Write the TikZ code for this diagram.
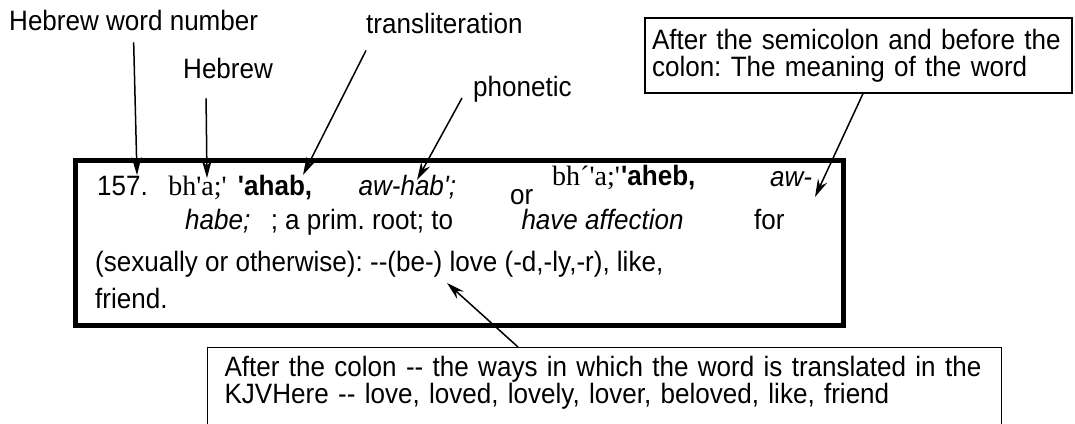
\documentclass[tikz,border=0pt]{standalone}
\usepackage{fontspec}
\newfontfamily\arialfont{Liberation Sans}[FakeStretch=0.93]
\newfontfamily\timesfont{Liberation Serif}
\usetikzlibrary{arrows.meta,positioning}

\begin{document}
\begin{tikzpicture}[
    x=1pt, y=1pt,
    txt/.style={anchor=base west, inner sep=0pt, font=\arialfont\frenchspacing\fontsize{28}{30}\selectfont},
    hebtxt/.style={txt, font=\timesfont\fontsize{28}{30}\selectfont},
    note/.style={rectangle, draw, line width=1.2pt, align=left, font=\arialfont\frenchspacing\fontsize{28}{27}\selectfont},
    entrybox/.style={rectangle, draw, line width=5pt, minimum width=767.5pt, minimum height=164.5pt},
    arrow/.style={line width=1.5pt, -{Stealth[length=18pt,width=10pt,inset=6pt]}}
]
    \useasboundingbox (0,0) rectangle (1075,-423);
    \clip (0,0) rectangle (1075,-423);

    \node[entrybox] (entry) at (459.25,-242.75) {};

    \node[txt] (num) at (97,-195) {157.};
    \node[hebtxt, base right=20pt of num] (heb1) {bh'a;'};
    \node[txt, base right=11pt of heb1, font=\arialfont\bfseries\fontsize{28}{30}\selectfont] (translit1) {'ahab,};
    \node[txt, base right=46pt of translit1, font=\arialfont\itshape\fontsize{28}{30}\selectfont] (phon1) {aw-hab';};
    \node[txt] (orword) at (510,-204) {or};
    \node[hebtxt] (heb2) at (552,-185) {bh´'a;'};
    \node[txt, base right=1pt of heb2, font=\arialfont\bfseries\fontsize{28}{30}\selectfont] (translit2) {'aheb,};
    \node[txt, font=\arialfont\itshape\fontsize{28}{30}\selectfont] (phon2a) at (770,-186) {aw-};

    \node[txt, font=\arialfont\itshape\fontsize{28}{30}\selectfont] (phon2b) at (185,-229) {habe;};
    \node[txt, base right=20pt of phon2b] (prim) {; a prim. root; to};
    \node[txt, base right=68pt of prim, font=\arialfont\itshape\fontsize{28}{30}\selectfont] (affect) {have affection};
    \node[txt, base right=70pt of affect] (forword) {for};
    \node[txt] (usage) at (95,-271) {(sexually or otherwise): --(be-) love (-d,-ly,-r), like,};
    \node[txt] (friend) at (95,-308) {friend.};

    \node[txt] (wordnum) at (9,-30) {Hebrew word number};
    \node[txt] (hebrewlbl) at (183,-78) {Hebrew};
    \node[txt] (translitlbl) at (366,-33) {transliteration};
    \node[txt] (phoneticlbl) at (473,-96) {phonetic};

    \node[note, text width=413pt, inner xsep=7pt, minimum height=75pt] (meaning) at (858.5,-55.5)
        {After the semicolon and before the\\colon: The meaning of the word};
    \node[note, anchor=north west, text width=760pt, inner xsep=17pt, inner ysep=9pt, text depth=80pt] (kjv) at (207,-347)
        {After the colon -- the ways in which the word is translated in the\\KJVHere -- love, loved, lovely, lover, beloved, like, friend};

    \coordinate (numtip) at (137,-175);
    \coordinate (hebtip) at (207,-178);
    \coordinate (transtip) at (303,-175);
    \coordinate (phontip) at (417,-180);
    \coordinate (meantip) at (815,-197);
    \coordinate (lovetip) at (447,-283);

    \draw[arrow] ([yshift=-12pt]wordnum.south) -- (numtip);
    \draw[arrow] ([xshift=-22pt,yshift=-20pt]hebrewlbl.south) -- (hebtip);
    \draw[arrow] ([yshift=-17pt]translitlbl.south west) -- (transtip);
    \draw[arrow] ([xshift=-11pt,yshift=-2pt]phoneticlbl.base west) -- (phontip);
    \draw[arrow] ([xshift=4.5pt]meaning.south) -- (meantip);
    \draw[arrow] ([xshift=311pt]kjv.north west) -- (lovetip);
\end{tikzpicture}
\end{document}
